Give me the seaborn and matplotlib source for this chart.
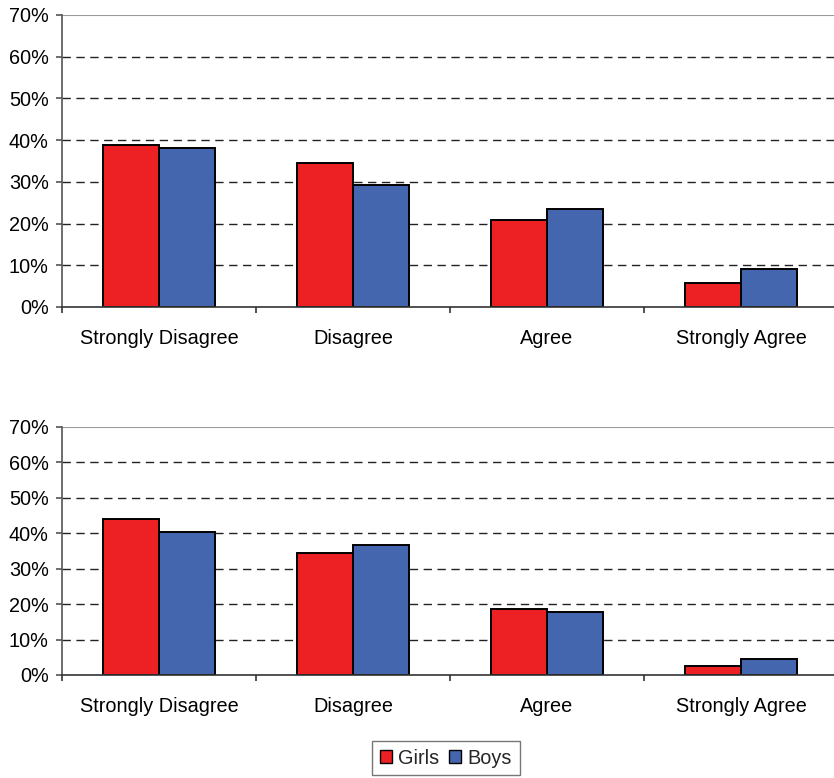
import numpy as np
import pandas as pd
import matplotlib.pyplot as plt
from matplotlib.patches import Patch
from matplotlib.ticker import FixedLocator, PercentFormatter
import seaborn as sns

sns.set_theme(style="white")
plt.rcParams["font.family"] = ["Liberation Sans", "DejaVu Sans"]

# ── Data ─────────────────────────────────────────────────────────────────────
categories = ["Strongly Disagree", "Disagree", "Agree", "Strongly Agree"]
groups = ["Girls", "Boys"]
top_girls = [38.8, 34.6, 20.9, 5.7]
top_boys = [38.0, 29.3, 23.6, 9.1]
bottom_girls = [44.0, 34.5, 18.7, 2.6]
bottom_boys = [40.3, 36.8, 17.8, 4.4]

RED = "#ED2024"
BLUE = "#4466AE"
FS = 14.3


def long_df(girls, boys):
    return pd.DataFrame({
        "response": categories * 2,
        "group": ["Girls"] * 4 + ["Boys"] * 4,
        "pct": list(girls) + list(boys),
    })


fig = plt.figure(figsize=(8.34, 7.78), dpi=100)
W, H = 834, 778
ax_top = fig.add_axes([62 / W, 1 - 307 / H, 776 / W, 292 / H])
ax_bot = fig.add_axes([62 / W, 1 - 675 / H, 776 / W, 248 / H])

for ax, (g, b) in zip([ax_top, ax_bot], [(top_girls, top_boys), (bottom_girls, bottom_boys)]):
    df = long_df(g, b)
    sns.barplot(data=df, x="response", y="pct", hue="group", hue_order=groups,
                palette=[RED, BLUE], edgecolor="black", linewidth=1.4,
                width=0.575, ax=ax, legend=False, errorbar=None, saturation=1)
    ax.set_ylim(0, 70)
    ax.set_xlim(-0.5, 3.5)
    ax.set_yticks(np.arange(0, 71, 10))
    ax.yaxis.set_major_formatter(PercentFormatter(decimals=0))
    for y in range(10, 70, 10):
        ax.axhline(y, color="#222222", linestyle=(0, (6, 4)), linewidth=1.0, zorder=0)
    ax.axhline(70, color="#999999", linewidth=1.5, zorder=0)
    ax.set_xlabel("")
    ax.set_ylabel("")
    for s in ["top", "right"]:
        ax.spines[s].set_visible(False)
    ax.spines["left"].set_color("#555555")
    ax.spines["bottom"].set_color("#333333")
    ax.spines["left"].set_linewidth(1.2)
    ax.spines["bottom"].set_linewidth(1.2)
    ax.xaxis.set_minor_locator(FixedLocator([-0.5, 0.5, 1.5, 2.5, 3.5]))
    ax.tick_params(axis="x", which="major", length=0, labelsize=FS, pad=16, colors="black")
    ax.tick_params(axis="x", which="minor", length=4.5, width=1.2, color="#333333", bottom=True)
    ax.tick_params(axis="y", length=4.5, width=1.2, color="#555555", labelsize=FS,
                   left=True, pad=5, labelcolor="black")
    ax.set_axisbelow(True)

handles = [Patch(facecolor=RED, edgecolor="black", label="Girls"),
           Patch(facecolor=BLUE, edgecolor="black", label="Boys")]
fig.legend(handles=handles, loc="center", bbox_to_anchor=(446 / W, 1 - 758 / H),
           ncol=2, fontsize=FS, frameon=True, fancybox=False, edgecolor="#555555",
           handlelength=0.6, handleheight=0.6, handletextpad=0.3, columnspacing=0.5,
           borderpad=0.4, borderaxespad=0)

fig.savefig("out.png", dpi=100, facecolor="white")
